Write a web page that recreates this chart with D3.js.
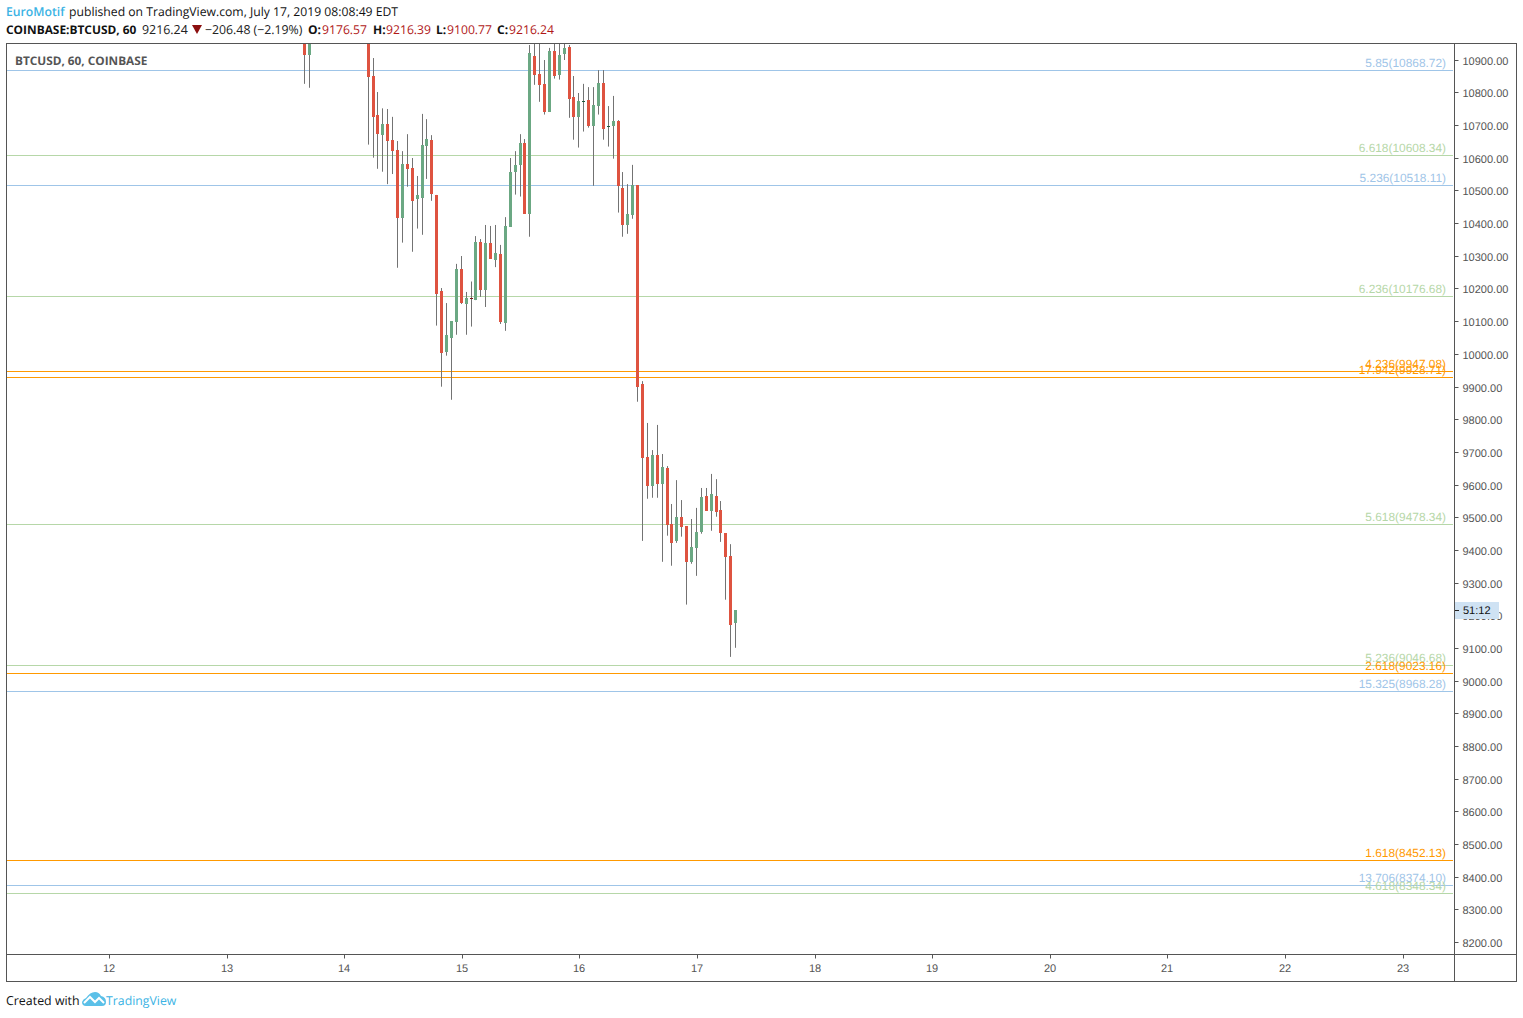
<!DOCTYPE html>
<html><head><meta charset="utf-8">
<script src="https://cdnjs.cloudflare.com/ajax/libs/d3/7.8.5/d3.min.js"></script>
<style>html,body{margin:0;padding:0;background:#fff}svg{display:block}text{text-rendering:geometricPrecision}</style>
</head><body><div id="chart"></div>
<script>
const hours=[40,41,53,54,55,56,57,58,59,60,61,62,63,64,65,66,67,68,69,70,71,72,73,74,75,76,77,78,79,80,81,82,83,84,85,86,87,88,89,90,91,92,93,94,95,96,97,98,99,100,101,102,103,104,105,106,107,108,109,110,111,112,113,114,115,116,117,118,119,120,121,122,123,124,125,126,127,128];
const opens=[11000,10913,10990,10851,10732,10671,10704,10655,10624,10417,10582,10569,10475,10478,10638,10655,10487,10193,10007,10050,10099,10260,10153,10171,10165,10343,10196,10340,10288,10306,10095,10390,10558,10579,10646,10429,10912,10857,10827,10742,10928,10855,10918,10940,10787,10726,10774,10778,10698,10760,10830,10697,10699,10713,10508,10396,10426,10517,9908,9685,9597,9691,9603,9651,9480,9428,9501,9473,9364,9407,9456,9565,9520,9565,9522,9452,9382,9176.57];
const highs=[11050,11050,11010,10906,10802,10752,10750,10726,10652,10621,10673,10600,10545,10735,10719,10670,10487,10202,10156,10101,10276,10300,10190,10222,10361,10352,10395,10392,10395,10334,10419,10600,10621,10673,10658,10946,10975,10975,10900,10937,10975,10975,10975,10946,10851,10799,10827,10817,10817,10869,10869,10759,10790,10716,10557,10520,10579,10517,9917,9789,9706,9783,9694,9657,9541,9614,9553,9473,9495,9529,9590,9590,9633,9617,9550,9452,9418,9216.39];
const lows=[10827,10815,10641,10601,10567,10558,10520,10551,10264,10341,10512,10313,10384,10365,10536,10469,10087,9900,9995,9860,10059,10153,10059,10084,10165,10175,10144,10291,10266,10092,10071,10390,10488,10482,10429,10359,10824,10772,10733,10742,10843,10840,10900,10723,10656,10632,10681,10693,10515,10733,10656,10635,10598,10433,10359,10368,10414,9854,9428,9557,9560,9560,9364,9444,9352,9422,9441,9233,9358,9321,9450,9520,9459,9502,9425,9248,9073,9100.77];
const closes=[10913,11000,10849,10726,10674,10704,10653,10621,10417,10582,10566,10469,10487,10640,10658,10491,10185,10004,10058,10101,10260,10156,10171,10170,10343,10196,10340,10291,10309,10098,10392,10557,10579,10646,10429,10921,10855,10824,10742,10928,10852,10915,10937,10781,10726,10774,10775,10698,10762,10830,10690,10698,10713,10515,10396,10429,10517,9900,9683,9597,9691,9603,9654,9477,9422,9501,9471,9364,9409,9455,9562,9520,9571,9517,9453,9379,9171,9216.24];
const fibRatios=["5.85","6.618","5.236","6.236","4.236","17.942","5.618","5.236","2.618","15.325","1.618","13.706","4.618"];
const fibPrices=[10868.72,10608.34,10518.11,10176.68,9947.08,9928.71,9478.34,9046.68,9023.16,8968.28,8452.13,8374.10,8348.34];
const fibKinds=["b","g","b","g","o","o","g","g","o","b","o","b","g"];
const dayLabels=["12","13","14","15","16","17","18","19","20","21","22","23"];
const priceTicks=d3.range(8200,10901,100);

const W=1523,H=1018,pane={l:6,r:1454,t:43,b:954};
const fibColor={b:"#9fc5e8",g:"#b6d7a8",o:"#ff9900"};
const svg=d3.select("#chart").append("svg").attr("width",W).attr("height",H).style("font-family","'Liberation Sans',Arial,sans-serif");
const x=d3.scaleLinear().domain([(pane.l-108.45)/4.9,(pane.r-108.45)/4.9]).range([pane.l,pane.r]);
const y=d3.scaleLinear().domain([8200,10900]).range([942.39,60.3]);
const snap=v=>Math.floor(v)+.5;

svg.append("defs").append("clipPath").attr("id","pane").append("rect").attr("x",pane.l).attr("y",pane.t).attr("width",pane.r-pane.l).attr("height",pane.b-pane.t);

// fib levels
const fib=svg.append("g");
fibPrices.forEach((p,i)=>{
  const yy=Math.floor(y(p))+.5;
  fib.append("line").attr("x1",pane.l).attr("x2",pane.r-1).attr("y1",yy).attr("y2",yy).attr("stroke",fibColor[fibKinds[i]]).attr("stroke-width",1);
});

// candles
const plot=svg.append("g").attr("clip-path","url(#pane)");
const idx=d3.range(hours.length);
plot.selectAll("line.w").data(idx).join("line").attr("class","w")
  .attr("x1",i=>snap(x(hours[i]))).attr("x2",i=>snap(x(hours[i])))
  .attr("y1",i=>y(highs[i])-.3).attr("y2",i=>y(lows[i])-.3)
  .attr("stroke","#737373").attr("stroke-width",1);
plot.selectAll("rect.b").data(idx).join("rect").attr("class","b")
  .attr("x",i=>Math.floor(x(hours[i]))-1).attr("width",3)
  .attr("y",i=>Math.round(y(Math.max(opens[i],closes[i]))-.3))
  .attr("height",i=>Math.max(1,Math.round(Math.abs(y(opens[i])-y(closes[i])))))
  .attr("fill",i=>{
    const up=closes[i]>=opens[i],doji=Math.abs(closes[i]-opens[i])<3;
    if(doji) return up?"#1c5a3a":"#7a1414";
    return up?"#6ba883":"#de5340";
  });

// fib labels
const lab=svg.append("g").attr("font-size",11.9).attr("text-anchor","end");
fibPrices.forEach((p,i)=>{
  lab.append("text").attr("x",1446).attr("y",Math.floor(y(p))-2.6).attr("fill",fibColor[fibKinds[i]]).text(`${fibRatios[i]}(${p.toFixed(2)})`);
});

// axes
const yAxis=d3.axisRight(y).tickValues(priceTicks).tickFormat(d3.format(".2f")).tickSize(4).tickPadding(4).tickSizeOuter(0);
const ya=svg.append("g").attr("transform",`translate(${pane.r+.5},0)`).call(yAxis);
ya.select(".domain").remove();
ya.selectAll("line").attr("stroke","#555");
ya.selectAll(".tick").attr("transform",d=>`translate(0,${Math.floor(y(d))+.5})`);
ya.selectAll("text").attr("font-size",11).attr("fill","#555").attr("font-family","'Liberation Sans',Arial,sans-serif").attr("dy","0.36em").attr("y",.8);
const dayTicks=d3.range(0,dayLabels.length).map(d=>d*24);
const xAxis=d3.axisBottom(x).tickValues(dayTicks).tickFormat((d,i)=>dayLabels[i]).tickSize(4).tickPadding(6).tickSizeOuter(0);
const xa=svg.append("g").attr("transform",`translate(0,${pane.b+.5})`).call(xAxis);
xa.select(".domain").remove();
xa.selectAll("line").attr("stroke","#555");
xa.selectAll(".tick").attr("transform",d=>`translate(${Math.round(x(d)+.5)+.5},0)`);
xa.selectAll("text").attr("font-size",11).attr("fill","#555").attr("x",-.5).attr("font-family","'Liberation Sans',Arial,sans-serif");

// frame
const frame=svg.append("g").attr("fill","none").attr("stroke","#555");
frame.append("rect").attr("x",6.5).attr("y",43.5).attr("width",1510).attr("height",938);
frame.append("line").attr("x1",6.5).attr("x2",1516.5).attr("y1",954.5).attr("y2",954.5);
frame.append("line").attr("x1",1454.5).attr("x2",1454.5).attr("y1",43.5).attr("y2",981.5);

// countdown
const cy=Math.round(y(closes[closes.length-1]));
svg.append("rect").attr("x",1455).attr("y",cy-8).attr("width",44).attr("height",17).attr("fill","#cfe2f3");
svg.append("line").attr("x1",1455).attr("x2",1459).attr("y1",cy+.5).attr("y2",cy+.5).attr("stroke","#222");
svg.append("text").attr("x",1463).attr("y",cy+4).attr("font-size",11).attr("fill","#111").text("51:12");

// header
const hf="'Open Sans',sans-serif";
const red="#b01818";
const texts=[
 ["EuroMotif",6,16,"#3bb3e4",600,12.2],
 ["published on TradingView.com, July 17, 2019 08:08:49 EDT",69,16,"#111",400,12.2],
 ["COINBASE:BTCUSD, 60",6,34,"#111",700,11.9],
 ["9216.24",142,34,"#222",400,12.4],
 ["\u2212206.48 (\u22122.19%)",205,34,"#222",400,12.3],
 ["O:",308,34,"#111",700,12],["9176.57",322,34,red,400,12.2],
 ["H:",373,34,"#111",700,12],["9216.39",386,34,red,400,12.2],
 ["L:",436,34,"#111",700,12],["9100.77",447,34,red,400,12.2],
 ["C:",497,34,"#111",700,12],["9216.24",509,34,red,400,12.2],
 ["BTCUSD, 60, COINBASE",15,65,"#555",700,11.8],
 ["Created with",6,1005,"#111",400,12.4],
 ["TradingView",106,1005,"#3bb3e4",400,12.3]
];
svg.append("g").selectAll("text").data(texts).join("text")
 .attr("x",d=>d[1]).attr("y",d=>d[2]).attr("fill",d=>d[3]).attr("font-weight",d=>d[4]).attr("font-size",d=>d[5]).attr("font-family",hf).text(d=>d[0]);
svg.append("path").attr("d","M192 25h10l-5 9z").attr("fill","#8b0f0f");
svg.append("path").attr("d","M82 1002Q83 999 86 998Q90 992 95 992Q99 992 101 996Q106 997 106 1002Q106 1006 102 1006L86 1006Q82 1006 82 1002Z").attr("fill","#5bc0e8");
svg.append("polyline").attr("points","84,1003 90,997 95,1002 99,998 104,1003").attr("fill","none").attr("stroke","#fff").attr("stroke-width",2);
</script></body></html>
